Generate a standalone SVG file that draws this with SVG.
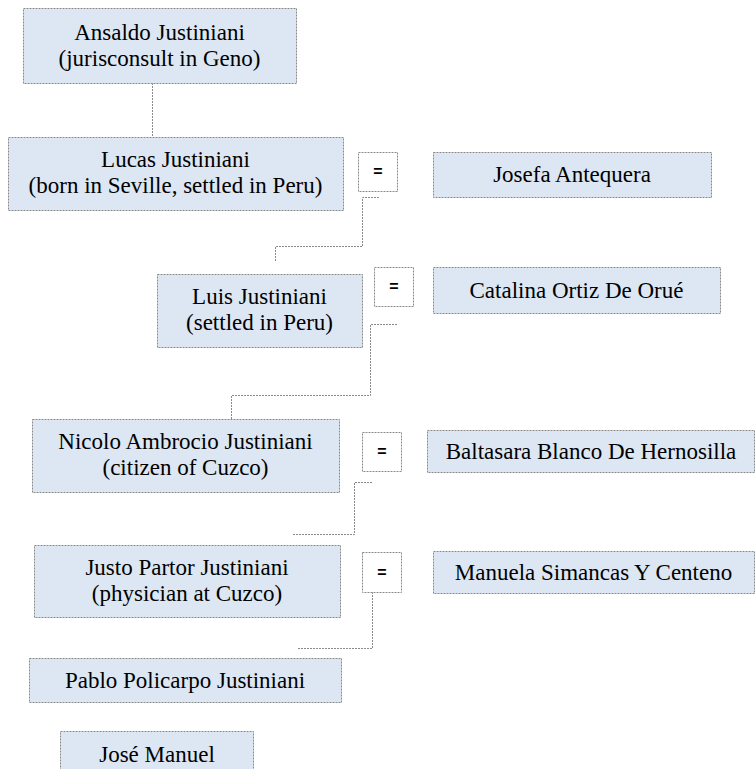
<svg xmlns="http://www.w3.org/2000/svg" width="755" height="769" viewBox="0 0 755 769">
<style>
.n{fill:#dce7f3;stroke:#8a8a8a;stroke-width:1;stroke-dasharray:2,1}
.e{fill:#ffffff;stroke:#8a8a8a;stroke-width:1;stroke-dasharray:2,1}
.t{font-family:'Liberation Serif','Times New Roman',serif;font-size:23px;fill:#000;text-anchor:middle}
.q{font-family:'Liberation Sans',Arial,sans-serif;font-size:16px;font-weight:bold;fill:#000;text-anchor:middle}
.c{fill:none;stroke:#8a8a8a;stroke-width:1;stroke-dasharray:2,1}
</style>
<rect width="755" height="769" fill="#ffffff"/>
<g id="connectors">
<path class="c" d="M152.5,83 V137"/>
<path class="c" d="M379,197.5 H362.5 V246.5 H275.5 V261"/>
<path class="c" d="M397,324.5 H370.5 V395.5 H231.5 V419"/>
<path class="c" d="M372,482.5 H354.5 V534.5 H293"/>
<path class="c" d="M372.5,592 V648.5 H297"/>
</g>
<g id="ansaldo"><rect class="n" x="23.5" y="8.5" width="273" height="75"/><text class="t" x="159.5" y="40">Ansaldo Justiniani</text><text class="t" x="159.5" y="66">(jurisconsult in Geno)</text></g>
<g id="lucas"><rect class="n" x="8.5" y="137.5" width="335" height="73"/><text class="t" x="175.5" y="167">Lucas Justiniani</text><text class="t" x="175.5" y="193">(born in Seville, settled in Peru)</text></g>
<g id="eq1"><rect class="e" x="358.5" y="152.5" width="39" height="39"/><text class="q" x="378" y="177">=</text></g>
<g id="josefa"><rect class="n" x="433.5" y="152.5" width="278" height="45"/><text class="t" x="572" y="182">Josefa Antequera</text></g>
<g id="luis"><rect class="n" x="157.5" y="274.5" width="205" height="73"/><text class="t" x="259.5" y="304">Luis Justiniani</text><text class="t" x="259.5" y="330">(settled in Peru)</text></g>
<g id="eq2"><rect class="e" x="374.5" y="267.5" width="39" height="39"/><text class="q" x="394" y="292">=</text></g>
<g id="catalina"><rect class="n" x="433.5" y="267.5" width="287" height="46"/><text class="t" x="576.5" y="298">Catalina Ortiz De Orué</text></g>
<g id="nicolo"><rect class="n" x="32.5" y="419.5" width="307" height="73"/><text class="t" x="185.5" y="449">Nicolo Ambrocio Justiniani</text><text class="t" x="185.5" y="475">(citizen of Cuzco)</text></g>
<g id="eq3"><rect class="e" x="362.5" y="432.5" width="39" height="39"/><text class="q" x="382" y="457">=</text></g>
<g id="baltasara"><rect class="n" x="427.5" y="430.5" width="327" height="42"/><text class="t" x="591" y="459">Baltasara Blanco De Hernosilla</text></g>
<g id="justo"><rect class="n" x="34.5" y="545.5" width="306" height="72"/><text class="t" x="187" y="575">Justo Partor Justiniani</text><text class="t" x="187" y="601">(physician at Cuzco)</text></g>
<g id="eq4"><rect class="e" x="362.5" y="552.5" width="39" height="40"/><text class="q" x="382" y="578">=</text></g>
<g id="manuela"><rect class="n" x="433.5" y="551.5" width="321" height="42"/><text class="t" x="593.5" y="580">Manuela Simancas Y Centeno</text></g>
<g id="pablo"><rect class="n" x="29.5" y="658.5" width="312" height="44"/><text class="t" x="185" y="688">Pablo Policarpo Justiniani</text></g>
<g id="jose"><rect class="n" x="60.5" y="731.5" width="193" height="50"/><text class="t" x="157" y="762">José Manuel</text></g>
</svg>
